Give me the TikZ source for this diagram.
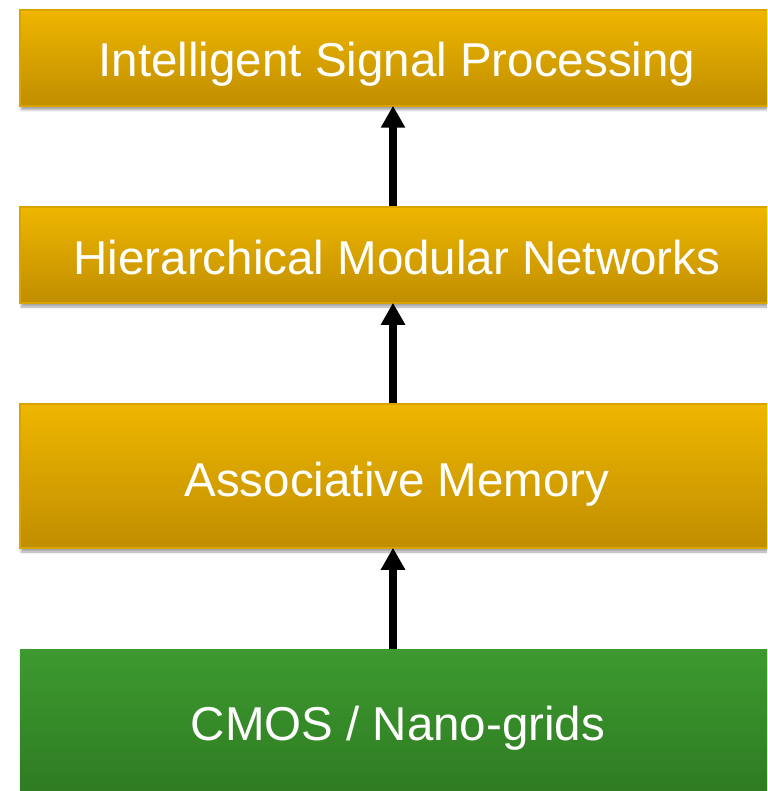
\documentclass[tikz,border=0pt]{standalone}
\usepackage{fontspec}
\setmainfont{Liberation Sans}
\usetikzlibrary{arrows.meta,shadows.blur}
\definecolor{goldtop}{HTML}{EEB600}
\definecolor{goldbot}{HTML}{C08E00}
\definecolor{goldedge}{HTML}{D9A300}
\definecolor{greentop}{HTML}{3D9A2F}
\definecolor{greenbot}{HTML}{2E7A22}
\tikzset{
  layerbox/.style={rectangle, minimum width=754pt, inner sep=0pt,
    blur shadow={shadow xshift=1pt, shadow yshift=-4pt, shadow blur steps=6, shadow opacity=35}},
  goldbox/.style={layerbox, draw=goldedge, line width=1.5pt, top color=goldtop, bottom color=goldbot},
  greenbox/.style={layerbox, draw=none, top color=greentop, bottom color=greenbot},
  boxtext/.style={anchor=base, inner sep=0pt, text=white, font=\fontsize{47.5}{50}\selectfont},
  uparrow/.style={line width=8pt, -{Triangle[width=23pt,length=22pt]}, shorten >=-1pt}
}
\begin{document}
\begin{tikzpicture}[x=1pt,y=-1pt]
\useasboundingbox (0,0) rectangle (767,791);
\clip (0,0) rectangle (767,791);
\node[goldbox, minimum height=96pt] (b1) at (397,58) {};
\node[goldbox, minimum height=96pt] (b2) at (397,255) {};
\node[goldbox, minimum height=144pt] (b3) at (397,476) {};
\node[greenbox, minimum height=150pt] (b4) at (397,724) {};
\node[boxtext] (t1) at (397,77) {Intelligent Signal Processing};
\node[boxtext] (t2) at (397,274) {Hierarchical Modular Networks};
\node[boxtext] (t3) at (397,496) {Associative Memory};
\node[boxtext] (t4) at (398,740) {CMOS / Nano-grids};
\coordinate (ax) at (393,0);
\draw[uparrow] (b2.north -| ax) -- (b1.south -| ax);
\draw[uparrow] (b3.north -| ax) -- (b2.south -| ax);
\draw[uparrow] (b4.north -| ax) -- (b3.south -| ax);
\end{tikzpicture}
\end{document}
